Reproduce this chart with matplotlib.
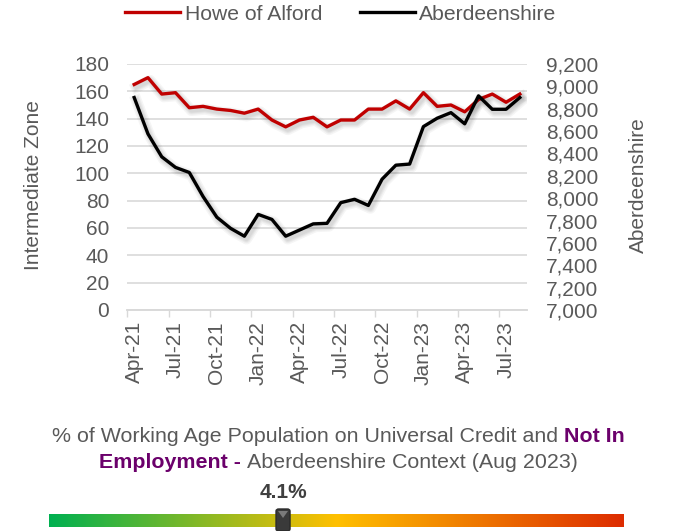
import matplotlib
matplotlib.use('Agg')
import matplotlib.pyplot as plt
import matplotlib.patheffects as pe
from matplotlib.lines import Line2D
from matplotlib.patches import FancyBboxPatch, Polygon
from matplotlib.colors import LinearSegmentedColormap
import numpy as np

months = ['Apr-21', 'May-21', 'Jun-21', 'Jul-21', 'Aug-21', 'Sep-21', 'Oct-21', 'Nov-21',
          'Dec-21', 'Jan-22', 'Feb-22', 'Mar-22', 'Apr-22', 'May-22', 'Jun-22', 'Jul-22',
          'Aug-22', 'Sep-22', 'Oct-22', 'Nov-22', 'Dec-22', 'Jan-23', 'Feb-23', 'Mar-23',
          'Apr-23', 'May-23', 'Jun-23', 'Jul-23', 'Aug-23']

howe = [165, 170, 158, 159, 148, 149, 147, 146, 144, 147, 139, 134, 139, 141, 134,
        139, 139, 147, 147, 153, 147, 159, 149, 150, 145, 154, 158, 152, 158]

aberdeenshire = [8900, 8575, 8370, 8275, 8230, 8015, 7830, 7730, 7660, 7855, 7810, 7660,
                 7715, 7770, 7775, 7960, 7990, 7935, 8170, 8295, 8305, 8640, 8715, 8765,
                 8665, 8915, 8795, 8795, 8900]

gauge_value = 4.1
gauge_pos = 0.407  # position of marker along the colour bar

grey = '#595959'
red = '#C00000'
purple = '#6B006B'

plt.rcParams['font.family'] = ['Liberation Sans', 'DejaVu Sans']

fig = plt.figure(figsize=[6.75, 5.31], dpi=100)
ax = fig.add_axes([0.1886, 0.4162, 0.5917, 0.4633])
ax2 = ax.twinx()

x = np.arange(len(months))
# soft drop shadow built from a few faint layers
shadow = [pe.SimpleLineShadow(offset=(1.5, -2), shadow_color='#000000', alpha=0.04, linewidth=w)
          for w in (8, 6, 4.5, 3)] + [pe.Normal()]
ax.plot(x, howe, color=red, lw=2.4, path_effects=shadow, zorder=3)
ax2.plot(x, aberdeenshire, color='black', lw=2.4, path_effects=shadow, zorder=3)

ax.set_xlim(-0.5, len(months) - 0.5)
ax.set_ylim(0, 180)
ax.set_yticks(range(0, 181, 20))
ax2.set_ylim(7000, 9200)
ax2.set_yticks(range(7000, 9201, 200))
ax2.set_yticklabels([f'{v:,}' for v in range(7000, 9201, 200)])

ax.set_xticks(x[::3])
ax.set_xticklabels(months[::3], rotation=90)
ax.set_xticks(np.arange(-0.5, len(months), 3), minor=True)
ax.tick_params(axis='x', which='major', length=0, pad=8, labelsize=15, labelcolor=grey)
ax.tick_params(axis='x', which='minor', length=5, color='#D9D9D9', width=1)
ax.tick_params(axis='y', length=0, pad=13, labelsize=15, labelcolor=grey)
ax2.tick_params(axis='y', length=0, pad=14, labelsize=15, labelcolor=grey)

ax.grid(axis='y', color='#D9D9D9', lw=1.2)
ax.set_axisbelow(True)
for a in (ax, ax2):
    for s in ['top', 'left', 'right']:
        a.spines[s].set_visible(False)
    a.spines['bottom'].set_color('#D9D9D9')
    a.spines['bottom'].set_linewidth(1.2)

ax.set_ylabel('Intermediate Zone', fontsize=15, color=grey, va='center')
ax.yaxis.set_label_coords(-0.236, 0.508)
ax2.set_ylabel('Aberdeenshire', fontsize=15, color=grey, rotation=90, va='center')
ax2.yaxis.set_label_coords(1.279, 0.508)

handles = [Line2D([], [], color=red, lw=2.4), Line2D([], [], color='black', lw=2.4)]
fig.legend(handles, ['Howe of Alford', 'Aberdeenshire'], loc='center', bbox_to_anchor=(0.505, 0.973),
           ncol=2, frameon=False, fontsize=15.2, labelcolor=grey, handlelength=2.6,
           handletextpad=0.2, columnspacing=1.8)

# caption with mixed styles, centred line by line
renderer = fig.canvas.get_renderer()
W, H = 675.0, 531.0

def mixed_line(parts, ycen):
    texts = []
    for s, col, wt in parts:
        t = fig.text(0, 1 - ycen / H, s, color=col, fontweight=wt, fontsize=15.4, va='center', ha='left')
        texts.append(t)
    widths = [t.get_window_extent(renderer).width for t in texts]
    left = 338.5 - sum(widths) / 2
    for t, w in zip(texts, widths):
        t.set_x(left / W)
        left += w

mixed_line([('% of Working Age Population on Universal Credit and ', grey, 'normal'),
            ('Not In', purple, 'bold')], 437)
mixed_line([('Employment - ', purple, 'bold'),
            ('Aberdeenshire Context (Aug 2023)', grey, 'normal')], 462)

# gradient gauge
bx0, bx1, by0, by1 = 49, 624, 513.5, 527
gax = fig.add_axes([bx0 / W, 1 - by1 / H, (bx1 - bx0) / W, (by1 - by0) / H])
cmap = LinearSegmentedColormap.from_list('g', [(0, '#00B050'), (0.5, '#FFC000'), (1, '#DD2C00')])
gax.imshow(np.linspace(0, 1, 256)[None, :], aspect='auto', cmap=cmap, extent=[0, 1, 0, 1])
gax.set_axis_off()

mx = bx0 + gauge_pos * (bx1 - bx0)
fig.patches.append(FancyBboxPatch(((mx - 7) / W, 0 / H), 14 / W, 22 / H,
                                  boxstyle='round,pad=0,rounding_size=0.004',
                                  transform=fig.transFigure, facecolor='#3A3A3A',
                                  edgecolor='#2A2A2A', lw=1, zorder=5))
fig.patches.append(Polygon([((mx - 5) / W, 1 - 511 / H), ((mx + 5) / W, 1 - 511 / H),
                            (mx / W, 1 - 518 / H)], closed=True, transform=fig.transFigure,
                           facecolor='#7A7A7A', edgecolor='none', zorder=6))
fig.text(mx / W, 1 - 493 / H, f'{gauge_value}%', ha='center', va='center',
         fontsize=15, fontweight='bold', color='#404040')

fig.savefig('out.png', dpi=100)
